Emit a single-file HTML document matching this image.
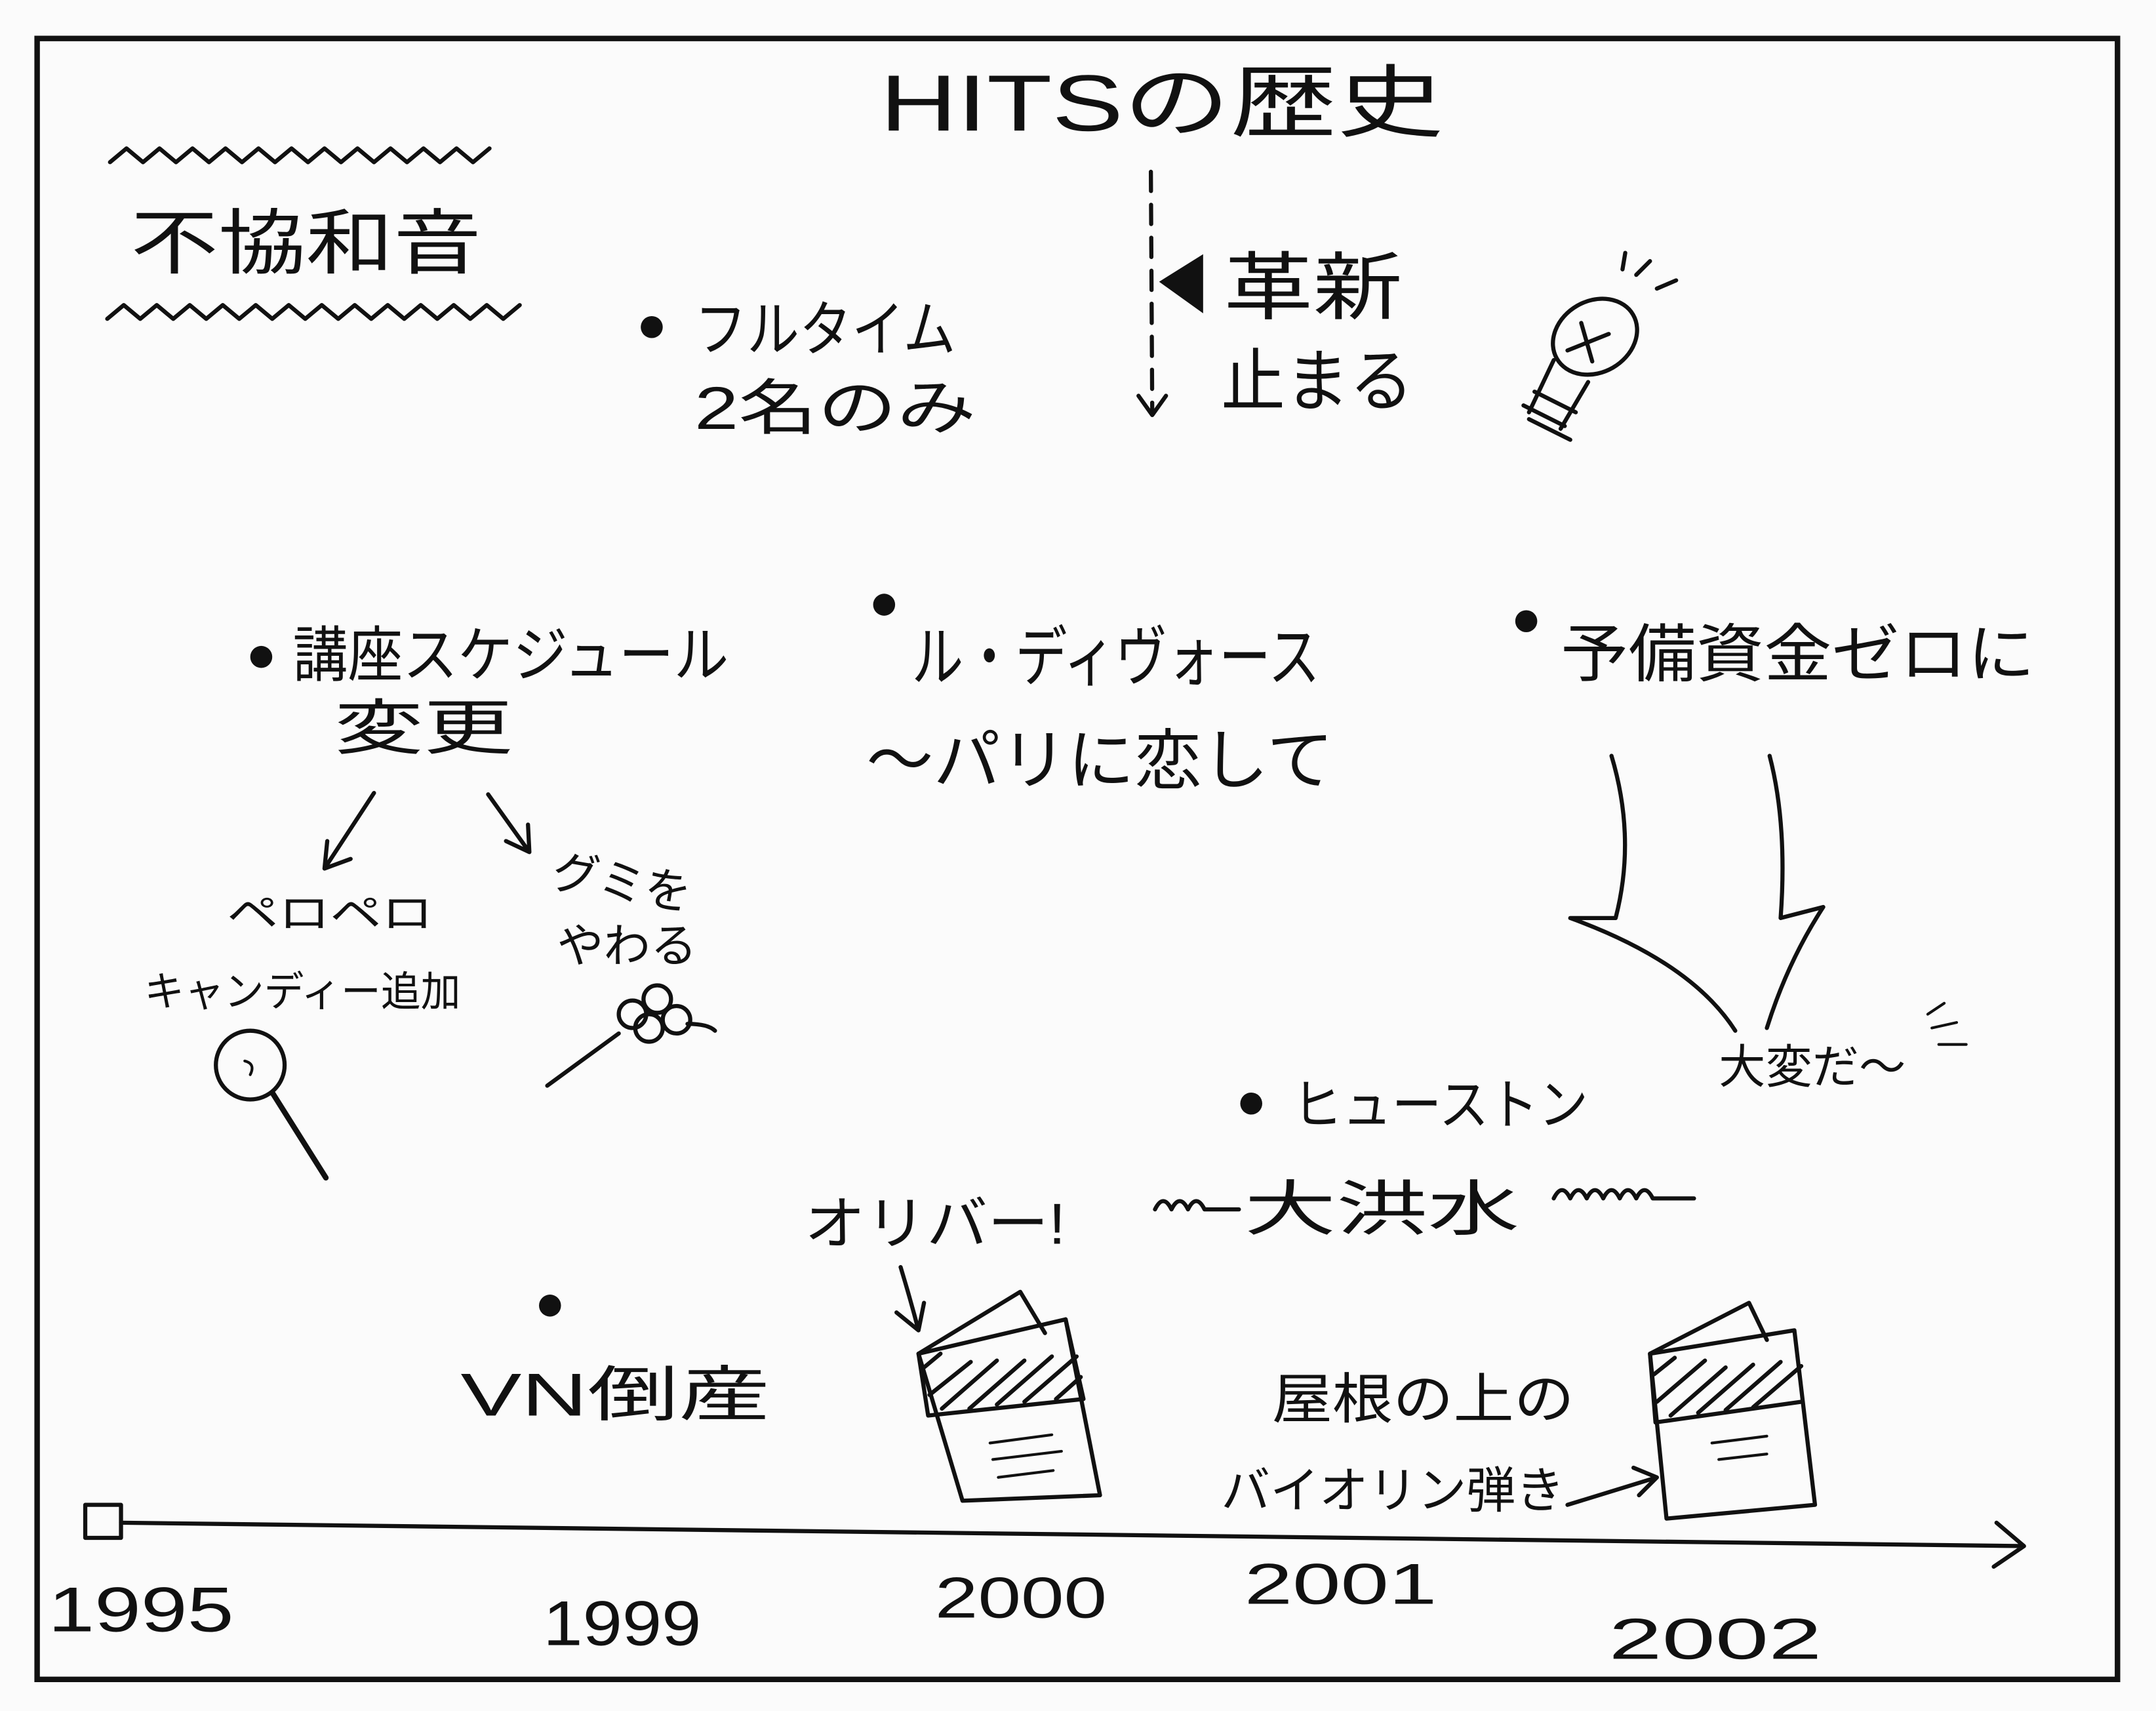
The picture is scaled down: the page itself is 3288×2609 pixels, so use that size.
<!DOCTYPE html>
<html><head><meta charset="utf-8">
<style>
html,body{margin:0;padding:0;background:#fbfbfb;}
svg{display:block;}
text{font-family:"Liberation Sans","Noto Sans CJK JP",sans-serif;fill:#111;}
</style></head>
<body>
<svg width="3288" height="2609" viewBox="0 0 1568 1245" preserveAspectRatio="none" xmlns="http://www.w3.org/2000/svg">
<rect x="0" y="0" width="1568" height="1245" fill="#fbfbfb"/>
<rect x="27" y="28" width="1513" height="1194" fill="none" stroke="#111" stroke-width="4"/>
<g stroke="#111" fill="none" stroke-linecap="round" stroke-linejoin="round">
<path d="M80,118 l12,-10 l12,10 l12,-10 l12,10 l12,-10 l12,10 l12,-10 l12,10 l12,-10 l12,10 l12,-10 l12,10 l12,-10 l12,10 l12,-10 l12,10 l12,-10 l12,10 l12,-10 l12,10 l12,-10 l12,10 l12,-10" stroke-width="3"/>
<path d="M78,232 l12,-10 l12,10 l12,-10 l12,10 l12,-10 l12,10 l12,-10 l12,10 l12,-10 l12,10 l12,-10 l12,10 l12,-10 l12,10 l12,-10 l12,10 l12,-10 l12,10 l12,-10 l12,10 l12,-10 l12,10 l12,-10 l12,10 l12,-10" stroke-width="3"/>
<path d="M837,125 L838,300" stroke-width="3" stroke-dasharray="14,10"/>
<path d="M828,288 L838,302 L848,288" stroke-width="3"/>
<ellipse cx="1160" cy="245" rx="32" ry="26" transform="rotate(-30 1160 245)" stroke-width="3"/>
<path d="M1130,262 L1112,300 M1155,278 L1135,312 M1108,295 l30,15 M1112,305 l30,15 M1116,285 l30,15 M1150,235 l8,28 M1140,255 l30,-12 M1190,200 l10,-10 M1205,210 l14,-6 M1180,196 l2,-12" stroke-width="3"/>
<path d="M272,577 L236,632 M236,632 L238,612 M236,632 L255,625" stroke-width="3"/>
<path d="M355,578 L385,620 M385,620 L368,612 M385,620 L384,600" stroke-width="3"/>
<circle cx="182" cy="775" r="25" stroke-width="3"/>
<path d="M198,795 L237,857" stroke-width="4"/>
<path d="M178,772 q8,2 4,10" stroke-width="2"/>
<circle cx="460" cy="738" r="10" stroke-width="3"/>
<circle cx="478" cy="727" r="10" stroke-width="3"/>
<circle cx="492" cy="742" r="10" stroke-width="3"/>
<circle cx="472" cy="748" r="10" stroke-width="3"/>
<path d="M398,790 L450,752 M500,745 q15,0 20,5" stroke-width="3"/>
<path d="M1172,550 Q1190,610 1175,668 L1142,668 Q1230,700 1262,750 M1287,550 Q1300,600 1295,668 L1326,660 Q1300,700 1285,748" stroke-width="3"/>
<path d="M1405,748 l18,-4 M1410,760 l20,0 M1402,738 l12,-8" stroke-width="2"/>
<path d="M840,880 q6,-12 12,0 q6,-12 12,0 q6,-12 12,0 l25,0" stroke-width="3"/>
<path d="M1130,872 q6,-12 12,0 q6,-12 12,0 q6,-12 12,0 q6,-12 12,0 q6,-12 12,0 q6,-12 12,0 l30,0" stroke-width="3"/>
<path d="M655,922 Q662,945 668,968 M668,968 L652,955 M668,968 L672,948" stroke-width="3"/>
<path d="M668,985 L742,940 L760,970 M700,1092 L800,1088 L775,960 L668,985 Z" stroke-width="3"/>
<path d="M668,985 L675,1030 L788,1018 L775,960" stroke-width="3"/>
<path d="M672,995 l12,-10 M676,1015 l30,-24 M685,1025 l40,-35 M705,1025 l40,-35 M725,1022 l40,-35 M745,1020 l38,-33 M768,1018 l18,-16" stroke-width="3"/>
<path d="M720,1050 l45,-6 M722,1062 l50,-6 M726,1075 l40,-5" stroke-width="2"/>
<path d="M1200,985 L1272,948 L1285,975 M1212,1105 L1320,1095 L1305,968 L1200,985 Z" stroke-width="3"/>
<path d="M1200,985 L1204,1035 L1310,1020" stroke-width="3"/>
<path d="M1203,1000 l15,-12 M1205,1020 l35,-30 M1215,1030 l40,-35 M1235,1028 l40,-35 M1255,1026 l40,-35 M1275,1024 l35,-30" stroke-width="3"/>
<path d="M1245,1050 l40,-5 M1250,1062 l35,-4" stroke-width="2"/>
<path d="M1140,1095 L1205,1075 M1205,1075 L1188,1068 M1205,1075 L1192,1088" stroke-width="3"/>
<rect x="62" y="1095" width="26" height="24" stroke-width="3"/>
<path d="M88,1108 L1472,1125 M1472,1125 L1452,1108 M1472,1125 L1450,1140" stroke-width="3"/>
</g>
<polygon points="875,185 875,228 843,205" fill="#111"/>
<g fill="#111">
<circle cx="474" cy="238" r="8"/><circle cx="190" cy="478" r="8"/><circle cx="643" cy="440" r="8"/>
<circle cx="1110" cy="452" r="8"/><circle cx="910" cy="803" r="8"/><circle cx="400" cy="950" r="8"/>
</g>
<g lengthAdjust="spacingAndGlyphs">
<text x="640" y="95" font-size="58" textLength="410" lengthAdjust="spacingAndGlyphs">HITSの歴史</text>
<text x="95" y="195" font-size="52" textLength="255" lengthAdjust="spacingAndGlyphs">不協和音</text>
<text x="505" y="255" font-size="44" textLength="190" lengthAdjust="spacingAndGlyphs">フルタイム</text>
<text x="505" y="312" font-size="44" textLength="205" lengthAdjust="spacingAndGlyphs">2名のみ</text>
<text x="890" y="228" font-size="54" textLength="130" lengthAdjust="spacingAndGlyphs">革新</text>
<text x="888" y="295" font-size="50" textLength="140" lengthAdjust="spacingAndGlyphs">止まる</text>
<text x="213" y="492" font-size="44" textLength="317" lengthAdjust="spacingAndGlyphs">講座スケジュール</text>
<text x="243" y="545" font-size="44" textLength="130" lengthAdjust="spacingAndGlyphs">変更</text>
<text x="165" y="675" font-size="30" textLength="150" lengthAdjust="spacingAndGlyphs">ペロペロ</text>
<text x="105" y="732" font-size="30" textLength="230" lengthAdjust="spacingAndGlyphs">キャンディー追加</text>
<text x="400" y="645" font-size="34" transform="rotate(10 400 645)">グミを</text>
<text x="405" y="700" font-size="34">やわる</text>
<text x="663" y="495" font-size="48" textLength="297" lengthAdjust="spacingAndGlyphs">ル・ディヴォース</text>
<text x="630" y="570" font-size="48" textLength="340" lengthAdjust="spacingAndGlyphs">〜パリに恋して</text>
<text x="1135" y="492" font-size="46" textLength="345" lengthAdjust="spacingAndGlyphs">予備資金ゼロに</text>
<text x="1250" y="788" font-size="34" fill="#333">大変だ〜</text>
<text x="940" y="818" font-size="40" textLength="215" lengthAdjust="spacingAndGlyphs">ヒューストン</text>
<text x="905" y="895" font-size="44" textLength="200" lengthAdjust="spacingAndGlyphs">大洪水</text>
<text x="585" y="905" font-size="42" textLength="190" lengthAdjust="spacingAndGlyphs">オリバー!</text>
<text x="335" y="1030" font-size="44" textLength="225" lengthAdjust="spacingAndGlyphs">VN倒産</text>
<text x="925" y="1032" font-size="40" textLength="220" lengthAdjust="spacingAndGlyphs">屋根の上の</text>
<text x="888" y="1097" font-size="36" textLength="250" lengthAdjust="spacingAndGlyphs">バイオリン弾き</text>
<text x="35" y="1187" font-size="46" textLength="135" lengthAdjust="spacingAndGlyphs">1995</text>
<text x="395" y="1197" font-size="46" textLength="115" lengthAdjust="spacingAndGlyphs">1999</text>
<text x="680" y="1177" font-size="42" textLength="125" lengthAdjust="spacingAndGlyphs">2000</text>
<text x="905" y="1167" font-size="42" textLength="140" lengthAdjust="spacingAndGlyphs">2001</text>
<text x="1170" y="1207" font-size="42" textLength="155" lengthAdjust="spacingAndGlyphs">2002</text>
</g>
</svg>
</body></html>
